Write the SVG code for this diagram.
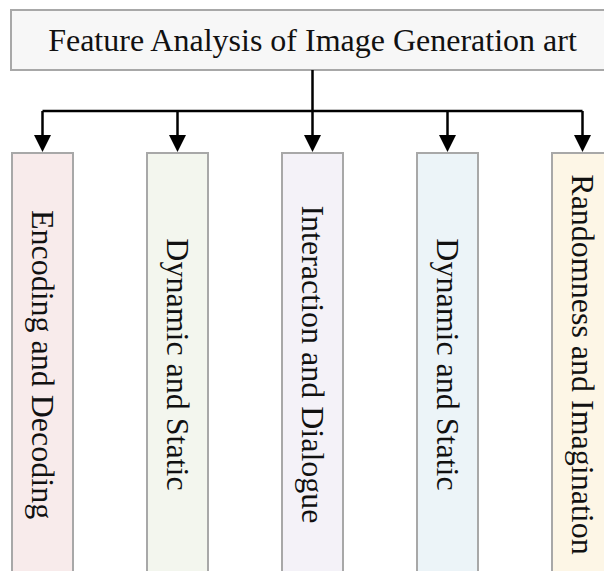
<svg xmlns="http://www.w3.org/2000/svg" width="604" height="571" viewBox="0 0 604 571">
  <style>
    .box { stroke: #a8a8a8; stroke-width: 2; }
    .label { font-family: "Liberation Serif", "Times New Roman", serif; font-size: 32px; fill: #111; text-anchor: middle; }
    .wire { fill: none; stroke: #000; stroke-width: 2.5; }
  </style>
  <defs>
    <marker id="arrow" viewBox="0 0 17 17" markerUnits="userSpaceOnUse" markerWidth="17" markerHeight="17" refX="5" refY="8.5" orient="auto">
      <path d="M0,0 L17,8.5 L0,17 Z" fill="#000"/>
    </marker>
  </defs>
  <rect width="604" height="571" fill="#fff"/>

  <!-- root node -->
  <g id="root">
    <rect class="box" x="11" y="10" width="604" height="60" fill="#f7f7f7"/>
    <text class="label" x="312.5" y="50.5">Feature Analysis of Image Generation art</text>
  </g>

  <!-- connectors -->
  <g id="connectors">
    <path class="wire" d="M312.5,70 V111 M42.5,111 H582.5"/>
    <line class="wire" x1="42.5" y1="111" x2="42.5" y2="140" marker-end="url(#arrow)"/>
    <line class="wire" x1="177.5" y1="111" x2="177.5" y2="140" marker-end="url(#arrow)"/>
    <line class="wire" x1="312.5" y1="111" x2="312.5" y2="140" marker-end="url(#arrow)"/>
    <line class="wire" x1="447.5" y1="111" x2="447.5" y2="140" marker-end="url(#arrow)"/>
    <line class="wire" x1="582.5" y1="111" x2="582.5" y2="140" marker-end="url(#arrow)"/>
  </g>

  <!-- feature columns -->
  <g id="encoding">
    <rect class="box" x="12" y="153" width="61" height="430" fill="#f8ebeb"/>
    <text class="label" transform="translate(42.5,364.5) rotate(90)" x="0" y="11">Encoding and Decoding</text>
  </g>
  <g id="dynamic-1">
    <rect class="box" x="147" y="153" width="61" height="430" fill="#f3f6ee"/>
    <text class="label" transform="translate(177.5,364.5) rotate(90)" x="0" y="11">Dynamic and Static</text>
  </g>
  <g id="interaction">
    <rect class="box" x="282" y="153" width="61" height="430" fill="#f4f2f8"/>
    <text class="label" transform="translate(312.5,364.5) rotate(90)" x="0" y="11">Interaction and Dialogue</text>
  </g>
  <g id="dynamic-2">
    <rect class="box" x="417" y="153" width="61" height="430" fill="#ecf4f8"/>
    <text class="label" transform="translate(447.5,364.5) rotate(90)" x="0" y="11">Dynamic and Static</text>
  </g>
  <g id="randomness">
    <rect class="box" x="552" y="153" width="61" height="430" fill="#fdf6e6"/>
    <text class="label" transform="translate(582.5,364.5) rotate(90)" x="0" y="11">Randomness and Imagination</text>
  </g>
</svg>
